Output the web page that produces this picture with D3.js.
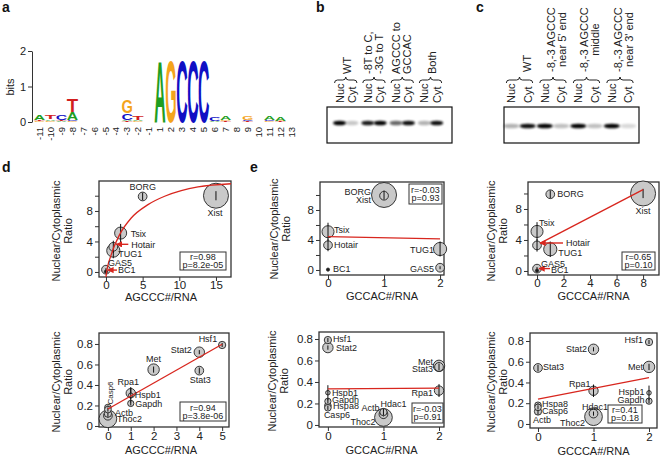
<!DOCTYPE html>
<html><head><meta charset="utf-8">
<script src="https://cdn.jsdelivr.net/npm/d3@7/dist/d3.min.js"></script>
<style>
html,body{margin:0;padding:0;background:#fff;}
svg{display:block;}
text{font-family:"Liberation Sans",Arial,Helvetica,sans-serif;}
</style></head><body>
<svg id="fig" width="660" height="457"></svg>
<script>
// ================= DATA =================
// (a) sequence logo: positions and letter stacks [letter, bits] from bottom to top
const logoPositions = ["-11","-10","-9","-8","-7","-6","-5","-4","-3","-2","-1",
  "1","2","3","4","5","6","7","8","9","10","11","12","13"];
const logoStacks = [
  [["G",0.03],["T",0.03],["A",0.14]],
  [["G",0.03],["A",0.05],["T",0.12]],
  [["A",0.03],["T",0.03],["C",0.13]],
  [["G",0.03],["C",0.03],["A",0.23],["T",0.38]],
  [],[],[],[],
  [["T",0.02],["A",0.03],["C",0.20],["G",0.38]],
  [["G",0.03],["A",0.03],["T",0.12]],
  [],
  [["A",1.75]],[["G",1.75]],[["C",1.75]],[["C",1.75]],[["C",1.75]],
  [["A",0.03],["C",0.11]],
  [["T",0.02],["G",0.03],["A",0.11]],
  [],
  [["T",0.02],["C",0.03],["G",0.09]],
  [],
  [["G",0.02],["C",0.04],["A",0.10]],
  [["T",0.02],["G",0.02],["A",0.11]],
  []
];
const logoYTicks = [0,1,2];

// (b),(c) northern blots
const laneNames = ["Nuc","Cyt"];
const gelBGroups = [["WT"],["-8T to C,","-3G to T"],["AGCCC to","GCCAC"],["Both"]];
const gelBIntensity = [1.0,0.22, 0.9,1.0, 0.6,0.95, 0.3,0.95];
const gelCGroups = [["WT"],["-8,-3 AGCCC","near 5' end"],["-8,-3 AGCCC","middle"],["-8,-3 AGCCC","near 3' end"]];
const gelCIntensity = [0.3,0.95, 1.0,0.25, 1.0,0.25, 1.0,0.15];

// (d),(e) top row: lncRNAs
const topGenes  = ["Xist","BORG","Tsix","Hotair","TUG1","GAS5","BC1"];
const topRatio  = [10.0, 9.9, 5.1, 3.3, 2.8, 0.3, 0.05];
const topErr    = [0.6, 0.5, 1.2, 0.8, 1.0, 0.2, 0.05];
const topLenKb  = [18, 2.2, 4.2, 2.2, 5.0, 2.2, 0.28];
const topAGCCC  = [15, 5, 2, 1, 1, 0, 0];
const topGCCAC  = [1, 1, 0, 0, 2, 2, 0];
const topGCCCA  = [8, 1, 0, 0, 1, 0, 0];

// bottom row: mRNAs
const botGenes  = ["Hsf1","Stat2","Stat3","Met","Rpa1","Hspb1","Gapdh","Hspa8","Casp6","Actb","Hdac1","Thoc2"];
const botRatio  = [0.79, 0.72, 0.54, 0.55, 0.32, 0.30, 0.22, 0.18, 0.16, 0.12, 0.10, 0.07];
const botErr    = [0.02, 0.02, 0.03, 0.03, 0.06, 0.07, 0.02, 0.02, 0.02, 0.03, 0.02, 0.01];
const botLenKb  = [1.53, 3.13, 2.2, 3.78, 2.53, 0.6, 1.13, 1.28, 1.28, 1.53, 2.2, 9.03];
const botAGCCC  = [5, 4, 4, 2, 1, 1, 1, 0, 0, 0, 0, 0];
const botGCCAC  = [0, 0, 2, 2, 2, 0, 0, 0, 0, 1, 1, 1];
const botGCCCA  = [2, 1, 0, 2, 1, 2, 2, 0, 0, 0, 1, 1];

// fitted lines
const fitD1 = [[0,-0.7],[0.04,-0.35],[0.72,2.27],[1.86,4.9],[3.45,7.08],[5.73,8.83],[8.0,9.93],[10.27,10.66],[12.55,11.15],[17.3,11.58]];
const fitE1 = [[0,4.45],[2,4.15]];
const fitF1 = [[0.25,3.6],[8,10.5]];
const fitD2 = [[0,0.166],[5,0.797]];
const fitE2 = [[0,0.335],[2,0.342]];
const fitF2 = [[0,0.24],[2,0.446]];

const statsTop = [["r=0.98","p=8.2e-05"],["r=-0.03","p=0.93"],["r=0.65","p=0.10"]];
const statsBot = [["r=0.94","p=3.8e-06"],["r=-0.03","p=0.91"],["r=0.41","p=0.18"]];
const xTitles = ["AGCCC#/RNA","GCCAC#/RNA","GCCCA#/RNA"];
const yTitleLines = ["Nuclear/Cytoplasmic","Ratio"];
const topXTicks = [[0,5,10,15],[0,1,2],[0,2,4,6,8]];
const topYTicks = [0,4,8], topYMinor = [2,6,10];
const botXTicks = [[0,1,2,3,4,5],[0,1,2],[0,1,2]];
const botYTicks = [0,0.2,0.4,0.6,0.8];

// ================= LAYOUT / STYLE =================
const FONT = '"Liberation Sans", Arial, Helvetica, sans-serif';
const RED = "#d8261e", INK = "#222";
const logoColors = {A:"#1f9e1f", C:"#1010c4", G:"#f4a41c", T:"#d21e1e"};
const svg = d3.select("#fig");
const defs = svg.append("defs");
defs.append("marker").attr("id","arrow").attr("viewBox","0 0 10 10").attr("refX",9).attr("refY",5)
  .attr("markerWidth",4.5).attr("markerHeight",4.5).attr("orient","auto")
  .append("path").attr("d","M0,0L10,5L0,10Z").attr("fill",RED);
defs.append("filter").attr("id","bandBlur").attr("x","-50%").attr("y","-150%").attr("width","200%").attr("height","400%")
  .append("feGaussianBlur").attr("stdDeviation","1.1 0.9");

// panel letters
[["a",2,12],["b",316,12],["c",476,12],["d",2,172],["e",250,172]].forEach(([t,x,y])=>{
  svg.append("text").attr("x",x).attr("y",y).attr("font-size",14).attr("font-weight","bold").attr("fill","#111").text(t);
});

function styleAxis(sel, fs){
  sel.attr("font-family",FONT).attr("font-size",fs);
  sel.selectAll("text").attr("fill",INK);
  sel.selectAll("line").attr("stroke","#333");
  sel.selectAll(".domain").attr("stroke","#333");
}

// ---------- (a) logo ----------
(function(){
  const g = svg.append("g");
  const lx = d3.scalePoint().domain(logoPositions).range([39.5, 291.4]);
  const ly = d3.scaleLinear().domain([0,2]).range([122,51]);
  const ax = g.append("g").attr("transform","translate(32,0)")
    .call(d3.axisLeft(ly).tickValues(logoYTicks).tickSize(4).tickSizeOuter(0).tickPadding(2).tickFormat(d3.format("d")));
  styleAxis(ax, 11);
  const colW = 11.4;
  logoStacks.forEach((st,i)=>{
    let cum = 0; const cx = lx(logoPositions[i]);
    st.forEach(([L,h])=>{
      const y0 = ly(cum), y1 = ly(cum+h); cum += h;
      const t = g.append("text").text(L).attr("font-size",100).attr("font-weight","bold").attr("fill",logoColors[L]);
      const w = t.node().getComputedTextLength();
      t.attr("transform",`translate(${cx-colW/2},${y0}) scale(${colW/w},${(y0-y1)/72})`);
    });
  });
  logoPositions.forEach(p=>{
    g.append("text").attr("transform",`translate(${lx(p)},127) rotate(-90)`).attr("text-anchor","end")
      .attr("dy","0.35em").attr("font-size",9.5).attr("fill",INK).text(p);
  });
  g.append("text").attr("transform","translate(14,87) rotate(-90)").attr("text-anchor","middle")
    .attr("font-size",11).attr("fill",INK).text("bits");
})();

// ---------- (b),(c) gels ----------
function brace(x1,x2,y,h){
  const xm=(x1+x2)/2, r=h/2;
  return `M${x1},${y+h} Q${x1},${y+r} ${x1+r},${y+r} L${xm-r},${y+r} Q${xm},${y+r} ${xm},${y} Q${xm},${y+r} ${xm+r},${y+r} L${x2-r},${y+r} Q${x2},${y+r} ${x2},${y+h}`;
}
function drawGel(o){
  const g = svg.append("g");
  const gx = d3.scalePoint().domain(d3.range(o.groups.length)).range(o.pairRange);
  g.append("rect").attr("x",o.box[0]).attr("y",o.box[1]).attr("width",o.box[2]-o.box[0]).attr("height",o.box[3]-o.box[1])
    .attr("fill","#fff").attr("stroke","#111").attr("stroke-width",1.2);
  if(o.smear) g.append("line").attr("x1",o.box[0]+1).attr("x2",o.box[2]-1).attr("y1",o.bandY).attr("y2",o.bandY)
    .attr("stroke","#bbb").attr("stroke-width",1.2).attr("filter","url(#bandBlur)");
  o.groups.forEach((lines,gi)=>{
    const c = gx(gi);
    laneNames.forEach((ln,li)=>{
      const xl = c + (li===0 ? -o.inner : o.inner);
      const v = o.intensity[gi*2+li];
      g.append("ellipse").attr("cx",xl).attr("cy",o.bandY).attr("rx",o.bandRx).attr("ry",2.3)
        .attr("fill","#050505").attr("opacity",v).attr("filter","url(#bandBlur)");
      g.append("text").attr("transform",`translate(${xl+4},103) rotate(-90)`).attr("font-size",11).attr("fill",INK).text(ln);
    });
    g.append("path").attr("d",brace(c-o.inner-5,c+o.inner+5,77,6)).attr("fill","none").attr("stroke",INK).attr("stroke-width",1);
    if(o.mode==="bottom"){
      lines.forEach((t,k)=>{
        const off = lines.length===1 ? o.singleOff : o.lineOffs[k];
        g.append("text").attr("transform",`translate(${c+off},74) rotate(-90)`).attr("font-size",11).attr("fill",INK).text(t);
      });
    } else {
      const els = lines.map((t,k)=>{
        const off = lines.length===1 ? o.singleOff : o.lineOffs[k];
        return g.append("text").attr("font-size",11).attr("fill",INK).attr("text-anchor","middle").text(t).datum(off);
      });
      const L = d3.max(els, e=>e.node().getComputedTextLength());
      const cy = 72 - L/2;
      els.forEach(e=>e.attr("transform",`translate(${c+e.datum()},${cy}) rotate(-90)`));
    }
  });
}
drawGel({groups:gelBGroups, intensity:gelBIntensity, box:[327,107,452,143], pairRange:[345.75,430.5], inner:6.2,
  bandY:123, bandRx:6.5, mode:"bottom", singleOff:5, lineOffs:[-2.5,8.5], smear:false});
drawGel({groups:gelCGroups, intensity:gelCIntensity, box:[504,107,639,143], pairRange:[519.5,620], inner:8.2,
  bandY:126, bandRx:8, mode:"center", singleOff:11, lineOffs:[1.5,12.5], smear:true});

// ---------- scatter panels ----------
const rScale = d3.scaleSqrt().domain([0,18]).range([0,12.5]);
function drawScatter(p){
  const [L,T,R,B] = p.box;
  const x = d3.scaleLinear().domain(p.xDom).range([L,R]);
  const y = d3.scaleLinear().domain(p.yDom).range([B,T]);
  const g = svg.append("g");
  const cid = "clip"+p.id;
  defs.append("clipPath").attr("id",cid).append("rect").attr("x",L).attr("y",T).attr("width",R-L).attr("height",B-T);
  const xa = g.append("g").attr("transform",`translate(0,${B})`)
    .call(d3.axisBottom(x).tickValues(p.xTicks).tickSize(4).tickPadding(p.tickPad).tickFormat(d3.format("d")));
  xa.select(".domain").remove(); styleAxis(xa, 11.5);
  const ya = g.append("g").attr("transform",`translate(${L},0)`)
    .call(d3.axisLeft(y).tickValues(p.yTicks).tickSize(4).tickPadding(2).tickFormat(p.yFmt));
  ya.select(".domain").remove(); styleAxis(ya, 11.5);
  if(p.yMinor){
    const ym = g.append("g").attr("transform",`translate(${L},0)`).call(d3.axisLeft(y).tickValues(p.yMinor).tickSize(4).tickFormat(""));
    ym.select(".domain").remove(); styleAxis(ym, 11.5);
  }
  g.append("rect").attr("x",L).attr("y",T).attr("width",R-L).attr("height",B-T)
    .attr("fill","none").attr("stroke","#333").attr("stroke-width",1.3);
  // points
  const n = p.genes.length;
  const order = d3.range(n).sort((a,b)=>p.size[b]-p.size[a]);
  const pg = g.append("g");
  order.forEach(i=>{
    const cx = x(p.xv[i]), cy = y(p.ratio[i]);
    pg.append("circle").attr("cx",cx).attr("cy",cy).attr("r",Math.max(1.3,rScale(p.size[i])))
      .attr("fill", p.size[i] < 0.5 ? "#222" : "#c9c9c9").attr("stroke","#222").attr("stroke-width",0.9);
    pg.append("line").attr("x1",cx).attr("x2",cx).attr("y1",y(p.ratio[i]-p.err[i])).attr("y2",y(p.ratio[i]+p.err[i]))
      .attr("stroke","#111").attr("stroke-width",1);
  });
  // fit
  g.append("path").datum(p.fit).attr("clip-path",`url(#${cid})`)
    .attr("d",d3.line().x(d=>x(d[0])).y(d=>y(d[1])).curve(p.curve||d3.curveLinear))
    .attr("fill","none").attr("stroke",RED).attr("stroke-width",1.3);
  // arrows
  Object.entries(p.arrows||{}).forEach(([name,[d1,d2,dy]])=>{
    const i = p.genes.indexOf(name), cx = x(p.xv[i]), cy = y(p.ratio[i]);
    g.append("line").attr("x1",cx+d1).attr("x2",cx+d2).attr("y1",cy+dy).attr("y2",cy+dy)
      .attr("stroke",RED).attr("stroke-width",1.4).attr("marker-end","url(#arrow)");
  });
  // labels
  Object.entries(p.labels).forEach(([name,[dx,dy,anchor,rot]])=>{
    const i = p.genes.indexOf(name), cx = x(p.xv[i]), cy = y(p.ratio[i]);
    const t = g.append("text").attr("font-size",9).attr("fill",INK).attr("text-anchor",anchor).text(name);
    if(rot) t.attr("transform",`translate(${cx+dx},${cy+dy}) rotate(-90)`).attr("font-size",8);
    else t.attr("x",cx+dx).attr("y",cy+dy);
  });
  // stat box
  const [sx,sy,sw,sh] = p.statBox;
  g.append("rect").attr("x",sx).attr("y",sy).attr("width",sw).attr("height",sh).attr("fill","#fff").attr("stroke","#333").attr("stroke-width",1);
  p.stat.forEach((s,k)=>g.append("text").attr("x",sx+sw/2).attr("y",sy+sh/2-1+k*8.3).attr("text-anchor","middle")
    .attr("font-size",9).attr("fill",INK).text(s));
  // titles
  g.append("text").attr("x",(L+R)/2 + (p.xTitleDx||0)).attr("y",B+p.titleGap).attr("text-anchor","middle").attr("font-size",11).attr("fill",INK).text(p.xTitle);
  yTitleLines.forEach((t,k)=>{
    g.append("text").attr("transform",`translate(${p.yTitleX[k]},${p.yTitleY}) rotate(-90)`).attr("text-anchor","middle")
      .attr("font-size",11).attr("fill",INK).text(t);
  });
}

const fmtInt = d3.format("d");
const fmtRatio = d=> d===0 ? "0" : d3.format(".1f")(d);

drawScatter({id:"D1", genes:topGenes, xv:topAGCCC, ratio:topRatio, err:topErr, size:topLenKb,
  box:[99,181,231,277], xDom:[-0.95,17.05], yDom:[-0.66,11.93], xTicks:topXTicks[0], yTicks:topYTicks, yMinor:topYMinor, yFmt:fmtInt,
  tickPad:0, titleGap:24,
  fit:fitD1, curve:d3.curveMonotoneX, stat:statsTop[0], statBox:[180,252,46,18], xTitle:xTitles[0], xTitleDx:-4,
  yTitleX:[59.5,71.5], yTitleY:231,
  labels:{Xist:[-1,20,"middle"], BORG:[0,-6,"middle"], Tsix:[10,3.5,"start"], Hotair:[18,1.5,"start"],
          TUG1:[5,6,"start"], GAS5:[2,-4,"start"], BC1:[12,1,"start"]},
  arrows:{Hotair:[15,3,-2.5], BC1:[11,2,-1.5]}});

drawScatter({id:"E1", genes:topGenes, xv:topGCCAC, ratio:topRatio, err:topErr, size:topLenKb,
  box:[320,182,444,275], xDom:[-0.143,2.07], yDom:[-0.67,11.73], xTicks:topXTicks[1], yTicks:topYTicks, yMinor:topYMinor, yFmt:fmtInt,
  tickPad:0, titleGap:25,
  fit:fitE1, stat:statsTop[1], statBox:[409,184,33,20], xTitle:xTitles[1],
  yTitleX:[278,289.5], yTitleY:229,
  labels:{BORG:[-13,-1,"end"], Xist:[-13,8,"end"], Tsix:[6,1,"start"], Hotair:[6,3,"start"],
          TUG1:[-6,4,"end"], GAS5:[-6,4,"end"], BC1:[5,2,"start"]}});

drawScatter({id:"F1", genes:topGenes, xv:topGCCCA, ratio:topRatio, err:topErr, size:topLenKb,
  box:[528,182,659,275], xDom:[-0.68,9.2], yDom:[-0.52,11.48], xTicks:topXTicks[2], yTicks:topYTicks, yMinor:topYMinor, yFmt:fmtInt,
  tickPad:0, titleGap:25,
  fit:fitF1, stat:statsTop[2], statBox:[622,252,33,18], xTitle:xTitles[2],
  yTitleX:[494.5,506.5], yTitleY:231,
  labels:{BORG:[7,3,"start"], Xist:[0,21,"middle"], Tsix:[2,-5,"start"], Hotair:[29,1,"start"],
          TUG1:[8,7,"start"], GAS5:[4,-2,"start"], BC1:[14,2,"start"]},
  arrows:{Hotair:[26,3,-2.4], BC1:[13,2,-2]}});

drawScatter({id:"D2", genes:botGenes, xv:botAGCCC, ratio:botRatio, err:botErr, size:botLenKb,
  box:[99,333,229,427], xDom:[-0.39,5.3], yDom:[-0.01,0.907], xTicks:botXTicks[0], yTicks:botYTicks, yFmt:fmtRatio,
  tickPad:1, titleGap:27,
  fit:fitD2, stat:statsBot[0], statBox:[180,402,46,19], xTitle:xTitles[0], xTitleDx:-3,
  yTitleX:[59.5,71.5], yTitleY:382,
  labels:{Hsf1:[-5,-3,"end"], Stat2:[-7.5,1,"end"], Stat3:[1,12.5,"middle"], Met:[0,-8,"middle"], Rpa1:[-2.5,-8,"middle"],
          Hspb1:[4,3,"start"], Gapdh:[4.5,3.5,"start"], Casp6:[5.3,-5,"start",true], Actb:[7,2.3,"start"], Thoc2:[9,3,"start"]}});

drawScatter({id:"E2", genes:botGenes, xv:botGCCAC, ratio:botRatio, err:botErr, size:botLenKb,
  box:[319,332,444,427], xDom:[-0.16,2.09], yDom:[-0.019,0.865], xTicks:botXTicks[1], yTicks:botYTicks, yFmt:fmtRatio,
  tickPad:1, titleGap:27,
  fit:fitE2, stat:statsBot[1], statBox:[412,403,31,20], xTitle:xTitles[1],
  yTitleX:[276,288], yTitleY:381,
  labels:{Hsf1:[5,1.5,"start"], Stat2:[8,3.5,"start"], Met:[-6,-1,"end"], Stat3:[-6,5,"end"], Rpa1:[-6,5,"end"],
          Hspb1:[4,3,"start"], Gapdh:[4,1.5,"start"], Hspa8:[5,3.5,"start"], Casp6:[-4,10,"start"],
          Actb:[-4,-1,"end"], Hdac1:[-3,-7.5,"start"], Thoc2:[-8,7.5,"end"]}});

drawScatter({id:"F2", genes:botGenes, xv:botGCCCA, ratio:botRatio, err:botErr, size:botLenKb,
  box:[530,333,657,428], xDom:[-0.144,2.144], yDom:[-0.039,0.877], xTicks:botXTicks[2], yTicks:botYTicks, yFmt:fmtRatio,
  tickPad:1, titleGap:27,
  fit:fitF2, stat:statsBot[2], statBox:[608,405,34,18], xTitle:xTitles[2],
  yTitleX:[494.5,506.5], yTitleY:382,
  labels:{Hsf1:[-6,1,"end"], Stat2:[-6.5,2.5,"end"], Stat3:[5,2.5,"start"], Met:[-6,3,"end"], Rpa1:[-3,-3.5,"end"],
          Hspb1:[-4.5,2,"end"], Gapdh:[-4.5,2,"end"], Hspa8:[4,2,"start"], Casp6:[4,7,"start"],
          Actb:[-5,11.5,"start"], Hdac1:[-11.5,-4,"start"], Thoc2:[-8.5,9,"end"]}});
</script>
</body></html>
